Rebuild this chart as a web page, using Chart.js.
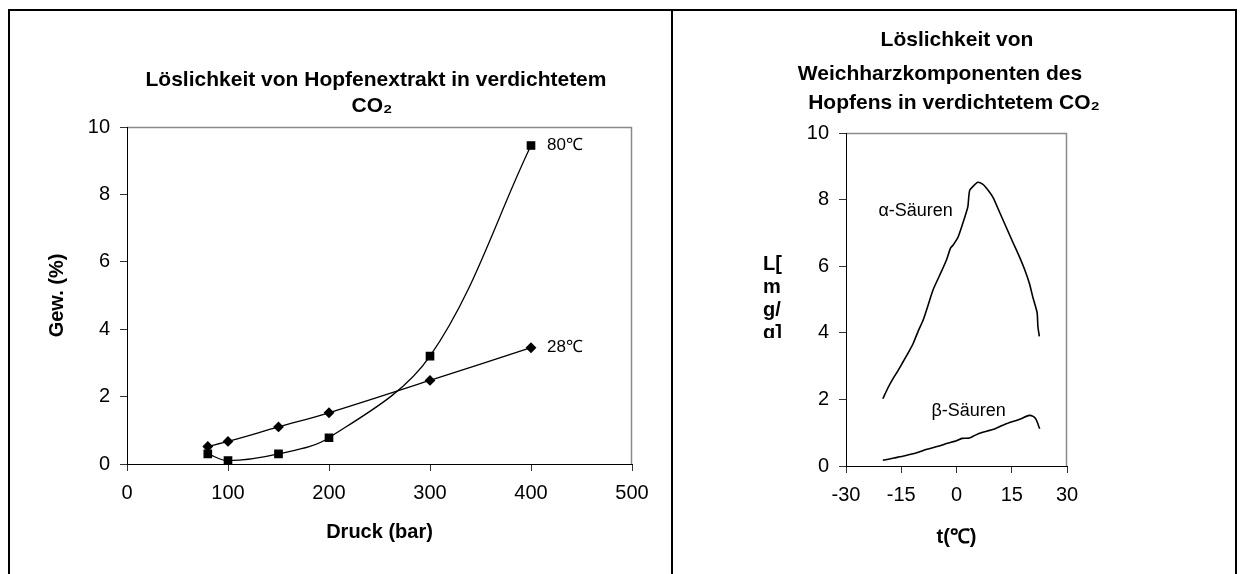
<!DOCTYPE html>
<html><head><meta charset="utf-8">
<script src="https://cdn.jsdelivr.net/npm/chart.js@4.4.1/dist/chart.umd.min.js"></script>
<style>
html,body{margin:0;padding:0;background:#fff;}
#wrap{position:relative;width:1244px;height:574px;overflow:hidden;background:#fff;}
canvas{position:absolute;left:0;top:0;}
.frame{position:absolute;background:#000;}
</style></head><body>
<div id="wrap">
<canvas id="c1" width="1244" height="574"></canvas>
<canvas id="c2" width="1244" height="574"></canvas>
<div class="frame" style="left:8px;top:9px;width:1229px;height:2px"></div>
<div class="frame" style="left:8px;top:9px;width:2px;height:565px"></div>
<div class="frame" style="left:671px;top:9px;width:2px;height:565px"></div>
<div class="frame" style="left:1235px;top:9px;width:2px;height:565px"></div>
</div>
<script>
// ---- data: left chart ----
const pressureBar = [80, 100, 150, 200, 300, 400];
const gew80C = [0.30, 0.10, 0.30, 0.78, 3.20, 9.45];
const gew28C = [0.52, 0.67, 1.10, 1.52, 2.48, 3.45];
const leftSeriesNames = ['80℃', '28℃'];
const pressureTicks = [0, 100, 200, 300, 400, 500];
const gewTicks = [0, 2, 4, 6, 8, 10];

// ---- data: right chart ----
const alphaTemp = [-20.0, -18.6, -17.2, -15.8, -14.5, -13.0, -11.8, -10.4, -9.0, -7.8, -6.4, -4.6, -2.75, -1.6, -0.95, 0.4, 1.6, 2.6, 3.1, 3.56, 4.5, 5.8, 7.0, 8.1, 9.9, 11.7, 13.5, 15.3, 17.1, 18.5, 19.8, 20.7, 21.3, 21.9, 22.1, 22.5];
const alphaSol  = [2.02, 2.35, 2.63, 2.88, 3.13, 3.42, 3.67, 4.05, 4.40, 4.80, 5.28, 5.72, 6.18, 6.55, 6.63, 6.87, 7.25, 7.60, 7.80, 8.27, 8.40, 8.52, 8.47, 8.35, 8.07, 7.62, 7.17, 6.72, 6.28, 5.90, 5.48, 5.08, 4.85, 4.59, 4.19, 3.89];
const betaTemp  = [-20.0, -17.0, -14.0, -11.0, -8.0, -5.0, -2.5, 0.0, 1.5, 3.5, 5.0, 6.5, 9.0, 10.5, 13.5, 17.0, 19.8, 20.8, 21.5, 22.0, 22.3, 22.6];
const betaSol   = [0.17, 0.24, 0.31, 0.39, 0.50, 0.59, 0.68, 0.76, 0.83, 0.84, 0.92, 0.99, 1.07, 1.12, 1.27, 1.40, 1.52, 1.49, 1.42, 1.30, 1.20, 1.12];
const rightSeriesNames = ['α-Säuren', 'β-Säuren'];
const tempTicks = [-30, -15, 0, 15, 30];
const solTicks = [0, 2, 4, 6, 8, 10];

const FONT = "'Liberation Sans', Arial, Helvetica, sans-serif";
Chart.defaults.font.family = FONT;
Chart.defaults.color = '#000';

function pts(xs, ys) { return xs.map((x, i) => ({ x: x, y: ys[i] })); }

const plotBorder = {
  id: 'plotBorder',
  beforeDraw(chart) {
    const { ctx, chartArea: a } = chart;
    ctx.save();
    ctx.strokeStyle = '#8a8a8a';
    ctx.lineWidth = 1.5;
    ctx.beginPath();
    ctx.moveTo(a.left, a.top + 0.5);
    ctx.lineTo(a.right - 0.5, a.top + 0.5);
    ctx.lineTo(a.right - 0.5, a.bottom);
    ctx.stroke();
    ctx.restore();
  }
};

const texts = {
  id: 'texts',
  afterDraw(chart, args, opts) {
    const ctx = chart.ctx;
    (opts.items || []).forEach(it => {
      ctx.save();
      ctx.font = it.font;
      ctx.fillStyle = '#000';
      ctx.textAlign = it.align || 'center';
      ctx.textBaseline = it.baseline || 'middle';
      let x = it.x, y = it.y;
      if (it.data) {
        x = chart.scales.x.getPixelForValue(it.data[0]) + (it.dx || 0);
        y = chart.scales.y.getPixelForValue(it.data[1]) + (it.dy || 0);
      }
      if (it.clip) { ctx.beginPath(); ctx.rect(it.clip[0], it.clip[1], it.clip[2], it.clip[3]); ctx.clip(); }
      ctx.fillText(it.text, x, y);
      ctx.restore();
    });
  }
};

function axisCommon(ticksArr, extra) {
  return Object.assign({
    type: 'linear',
    afterBuildTicks: s => { s.ticks = ticksArr.map(v => ({ value: v })); },
    grid: { display: true, drawOnChartArea: false, drawTicks: true, tickLength: 7, tickColor: '#333', tickWidth: 1 },
    border: { display: true, color: '#000', width: 1 },
    ticks: { color: '#000', font: { family: FONT, size: 20 } }
  }, extra);
}

const lineStyle = { borderColor: '#000', backgroundColor: '#000', borderWidth: 1.3, fill: false };

// ---- left chart ----
new Chart(document.getElementById('c1'), {
  type: 'scatter',
  data: {
    datasets: [
      Object.assign({ label: leftSeriesNames[0], data: pts(pressureBar, gew80C), showLine: true, tension: 0.35,
        pointStyle: 'rect', pointRadius: 5.2, pointHoverRadius: 5.2 }, lineStyle),
      Object.assign({ label: leftSeriesNames[1], data: pts(pressureBar, gew28C), showLine: true, tension: 0.35,
        pointStyle: 'rectRot', pointRadius: 4.5, pointHoverRadius: 4.5 }, lineStyle)
    ]
  },
  options: {
    responsive: false, animation: false, devicePixelRatio: 1,
    layout: { padding: { left: 0, right: 612, top: 127, bottom: 0 } },
    plugins: {
      legend: { display: false }, tooltip: { enabled: false },
      texts: { items: [
        { text: 'Löslichkeit von Hopfenextrakt in verdichtetem', x: 376, y: 80, font: 'bold 21px ' + FONT },
        { text: 'CO₂', x: 372, y: 106, font: 'bold 21px ' + FONT },
        { text: leftSeriesNames[0], data: [pressureBar[5], gew80C[5]], dx: 16, align: 'left', font: '17px ' + FONT },
        { text: leftSeriesNames[1], data: [pressureBar[5], gew28C[5]], dx: 16, align: 'left', font: '17px ' + FONT }
      ] }
    },
    scales: {
      x: axisCommon(pressureTicks, {
        position: 'bottom', min: 0, max: 500,
        afterFit: s => { s.height = 110; },
        ticks: { color: '#000', font: { family: FONT, size: 20 }, padding: 10 },
        title: { display: true, text: 'Druck (bar)', color: '#000', font: { family: FONT, size: 20, weight: 'bold' }, padding: { top: 0, bottom: 30 } }
      }),
      y: axisCommon(gewTicks, {
        position: 'left', min: 0, max: 10,
        afterFit: s => { s.width = 127; },
        ticks: { color: '#000', font: { family: FONT, size: 20 }, padding: 10 },
        title: { display: true, text: 'Gew. (%)', color: '#000', font: { family: FONT, size: 20, weight: 'bold' }, padding: { top: 45, bottom: 0 } }
      })
    }
  },
  plugins: [plotBorder, texts]
});

// ---- right chart ----
new Chart(document.getElementById('c2'), {
  type: 'scatter',
  data: {
    datasets: [
      Object.assign({ label: rightSeriesNames[0], data: pts(alphaTemp, alphaSol), showLine: true, tension: 0.25, pointRadius: 0 }, lineStyle, { borderWidth: 1.6 }),
      Object.assign({ label: rightSeriesNames[1], data: pts(betaTemp, betaSol), showLine: true, tension: 0.25, pointRadius: 0 }, lineStyle, { borderWidth: 1.6 })
    ]
  },
  options: {
    responsive: false, animation: false, devicePixelRatio: 1,
    layout: { padding: { left: 0, right: 177, top: 133, bottom: 0 } },
    plugins: {
      legend: { display: false }, tooltip: { enabled: false },
      texts: { items: [
        { text: 'Löslichkeit von', x: 957, y: 40, font: 'bold 21px ' + FONT },
        { text: 'Weichharzkomponenten des', x: 940, y: 74, font: 'bold 21px ' + FONT },
        { text: 'Hopfens in verdichtetem CO₂', x: 954, y: 103, font: 'bold 21px ' + FONT },
        { text: rightSeriesNames[0], data: [-21.2, 7.66], align: 'left', font: '18px ' + FONT },
        { text: rightSeriesNames[1], data: [-6.8, 1.65], align: 'left', font: '18px ' + FONT },
        { text: 'L[', x: 763, y: 270, align: 'left', baseline: 'alphabetic', font: 'bold 20px ' + FONT },
        { text: 'm', x: 763, y: 293, align: 'left', baseline: 'alphabetic', font: 'bold 20px ' + FONT },
        { text: 'g/', x: 763, y: 316, align: 'left', baseline: 'alphabetic', font: 'bold 20px ' + FONT },
        { text: 'g]', x: 763, y: 339, align: 'left', baseline: 'alphabetic', font: 'bold 20px ' + FONT, clip: [740, 240, 80, 98] }
      ] }
    },
    scales: {
      x: axisCommon(tempTicks, {
        position: 'bottom', min: -30, max: 30,
        afterFit: s => { s.height = 108; },
        ticks: { color: '#000', font: { family: FONT, size: 20 }, padding: 10 },
        title: { display: true, text: 't(℃)', color: '#000', font: { family: FONT, size: 20, weight: 'bold' }, padding: { top: 0, bottom: 25 } }
      }),
      y: axisCommon(solTicks, {
        position: 'left', min: 0, max: 10,
        afterFit: s => { s.width = 846; },
        ticks: { color: '#000', font: { family: FONT, size: 20 }, padding: 10 }
      })
    }
  },
  plugins: [plotBorder, texts]
});
</script>
</body></html>
